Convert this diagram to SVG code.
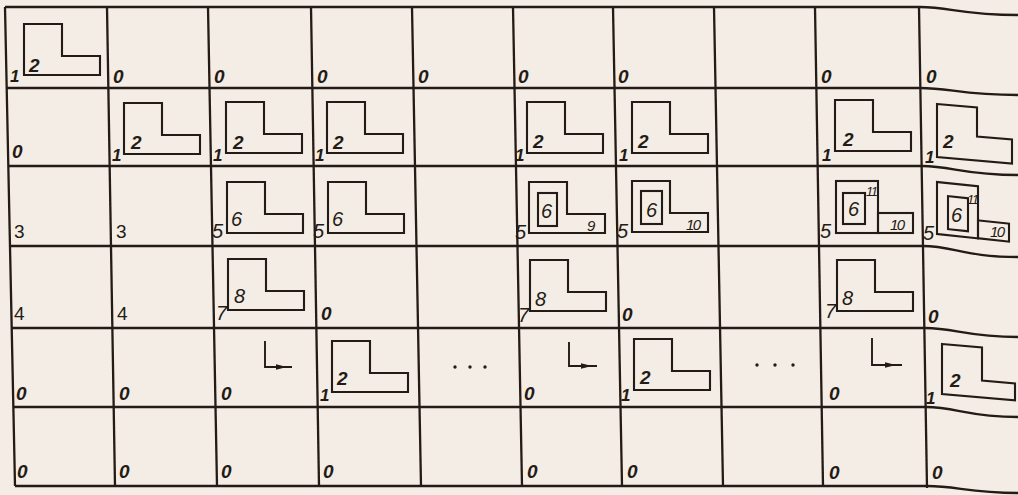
<svg xmlns="http://www.w3.org/2000/svg" xmlns:xlink="http://www.w3.org/1999/xlink" width="1018" height="495" viewBox="0 0 1018 495">
<style>
.g{fill:none;stroke:#241b16;stroke-width:2.3}
.s{fill:none;stroke:#241b16;stroke-width:2.1}
.a{fill:none;stroke:#241b16;stroke-width:1.9}
.h{fill:#241b16}
text{fill:#241b16;font-family:"Liberation Sans",Arial,sans-serif;font-style:italic}
.z{font-size:19px;font-weight:bold}
.o{font-size:17px;font-weight:bold}
.d{font-size:20px}
.u{font-size:19px;font-style:normal}
.m{font-size:15px}
.t{font-size:15px;letter-spacing:-1.5px}
.x{font-size:13px;letter-spacing:-1.5px}
</style>
<defs>
<path id="L" d="M0,0H38V32H76V51H0Z"/>
</defs>
<rect x="0" y="0" width="1018" height="495" fill="#f4ede5"/>
<g id="grid" class="g">
<path d="M5,7L920,7C950,7 962,15 1018,15"/>
<path d="M6,88L920,88C950,88 962,95 1018,95"/>
<path d="M8,166L922,166C952,166 964,175 1018,175"/>
<path d="M10,246L923,246C953,246 965,257 1018,257"/>
<path d="M11,328L925,328C955,328 967,337 1018,337"/>
<path d="M13,407L926,407C956,407 968,417 1018,417"/>
<path d="M15,486L927,486C957,486 969,493 1018,493"/>
<path d="M5,7L15,486"/>
<path d="M107,7L115,486"/>
<path d="M208,7L217,486"/>
<path d="M311,7L319,486"/>
<path d="M412,7L421,486"/>
<path d="M513,7L522,486"/>
<path d="M613,7L622,486"/>
<path d="M714,7L723,486"/>
<path d="M815,7L823,486"/>
<path d="M919,7L927,488"/>
</g>
<g id="row0">
<g id="r0c0"><use href="#L" x="24" y="24" class="s"/><text class="o" x="10" y="82">1</text><text class="z" x="29" y="72">2</text></g>
<g id="r0c1"><text class="z" x="113" y="83">0</text></g>
<g id="r0c2"><text class="z" x="214" y="83">0</text></g>
<g id="r0c3"><text class="z" x="317" y="83">0</text></g>
<g id="r0c4"><text class="z" x="418" y="83">0</text></g>
<g id="r0c5"><text class="z" x="518" y="83">0</text></g>
<g id="r0c6"><text class="z" x="618" y="83">0</text></g>
<g id="r0c8"><text class="z" x="821" y="83">0</text></g>
<g id="r0c9"><text class="z" x="926" y="83">0</text></g>
</g>
<g id="row1">
<g id="r1c0"><text class="z" x="12" y="158">0</text></g>
<g id="r1c1"><use href="#L" x="124" y="103" class="s"/><text class="o" x="112" y="161">1</text><text class="z" x="131" y="149">2</text></g>
<g id="r1c2"><use href="#L" x="226" y="102" class="s"/><text class="o" x="213" y="161">1</text><text class="z" x="233" y="149">2</text></g>
<g id="r1c3"><use href="#L" x="327" y="102" class="s"/><text class="o" x="315" y="161">1</text><text class="z" x="333" y="149">2</text></g>
<g id="r1c5"><use href="#L" x="527" y="102" class="s"/><text class="o" x="515" y="161">1</text><text class="z" x="533" y="148">2</text></g>
<g id="r1c6"><use href="#L" x="632" y="102" class="s"/><text class="o" x="619" y="161">1</text><text class="z" x="638" y="148">2</text></g>
<g id="r1c8"><use href="#L" x="835" y="100" class="s"/><text class="o" x="822" y="161">1</text><text class="z" x="843" y="146">2</text></g>
<g id="r1c9"><g transform="translate(937,104) skewY(5)"><path class="s" d="M0,0H40V29H75V53H0Z"/></g><text class="o" x="925" y="163">1</text><text class="z" x="943" y="148">2</text></g>
</g>
<g id="row2">
<g id="r2c0"><text class="u" x="14" y="238">3</text></g>
<g id="r2c1"><text class="u" x="116" y="238">3</text></g>
<g id="r2c2"><use href="#L" x="227" y="182" class="s"/><text class="d" x="212" y="238">5</text><text class="d" x="231" y="226">6</text></g>
<g id="r2c3"><use href="#L" x="328" y="182" class="s"/><text class="d" x="313" y="238">5</text><text class="d" x="332" y="226">6</text></g>
<g id="r2c5"><use href="#L" x="529" y="182" class="s"/><rect class="s" x="538" y="193" width="19" height="33"/><text class="d" x="541" y="218">6</text><text class="m" x="587" y="231">9</text><text class="d" x="515" y="239">5</text></g>
<g id="r2c6"><use href="#L" x="632" y="181" class="s"/><rect class="s" x="641" y="191" width="21" height="33"/><text class="d" x="646" y="217">6</text><text class="t" x="686" y="230">10</text><text class="d" x="617" y="238">5</text></g>
<g id="r2c8"><rect class="s" x="836" y="181" width="42" height="52"/><rect class="s" x="878" y="213" width="35" height="20"/><rect class="s" x="843" y="193" width="22" height="31"/><text class="d" x="848" y="216">6</text><text class="x" x="866" y="196">11</text><text class="t" x="890" y="230">10</text><text class="d" x="820" y="238">5</text></g>
<g id="r2c9"><g transform="translate(937,182) skewY(6)"><rect class="s" x="0" y="0" width="41" height="52"/><rect class="s" x="41" y="34" width="31" height="18"/><rect class="s" x="11" y="13" width="20" height="33"/></g><text class="d" x="951" y="222">6</text><text class="x" x="967" y="204">11</text><text class="t" x="990" y="237">10</text><text class="d" x="923" y="240">5</text></g>
</g>
<g id="row3">
<g id="r3c0"><text class="u" x="14" y="320">4</text></g>
<g id="r3c1"><text class="u" x="117" y="320">4</text></g>
<g id="r3c2"><use href="#L" x="228" y="259" class="s"/><text class="d" x="216" y="320">7</text><text class="d" x="234" y="303">8</text></g>
<g id="r3c3"><text class="z" x="321" y="320">0</text></g>
<g id="r3c5"><use href="#L" x="530" y="260" class="s"/><text class="d" x="518" y="322">7</text><text class="d" x="535" y="306">8</text></g>
<g id="r3c6"><text class="z" x="622" y="321">0</text></g>
<g id="r3c8"><use href="#L" x="837" y="260" class="s"/><text class="d" x="825" y="318">7</text><text class="d" x="842" y="305">8</text></g>
<g id="r3c9"><text class="z" x="928" y="323">0</text></g>
</g>
<g id="row4">
<g id="r4c0"><text class="z" x="16" y="400">0</text></g>
<g id="r4c1"><text class="z" x="119" y="400">0</text></g>
<g id="r4c2"><text class="z" x="221" y="400">0</text><path class="a" d="M265,341V367H292"/><path class="h" d="M276,364.3L287,367L276,369.7Z"/></g>
<g id="r4c3"><use href="#L" x="332" y="341" class="s"/><text class="o" x="320" y="401">1</text><text class="z" x="337" y="385">2</text></g>
<g id="r4c4"><circle class="h" cx="455" cy="367" r="1.7"/><circle class="h" cx="470" cy="367" r="1.7"/><circle class="h" cx="485" cy="367" r="1.7"/></g>
<g id="r4c5"><text class="z" x="524" y="400">0</text><path class="a" d="M569,342V366H597"/><path class="h" d="M581,363.3L592,366L581,368.7Z"/></g>
<g id="r4c6"><use href="#L" x="634" y="339" class="s"/><text class="o" x="621" y="401">1</text><text class="z" x="640" y="384">2</text></g>
<g id="r4c7"><circle class="h" cx="757" cy="365" r="1.7"/><circle class="h" cx="775" cy="365" r="1.7"/><circle class="h" cx="793" cy="365" r="1.7"/></g>
<g id="r4c8"><text class="z" x="829" y="400">0</text><path class="a" d="M872,338V365H902"/><path class="h" d="M885,362.3L896,365L885,367.7Z"/></g>
<g id="r4c9"><g transform="translate(942,344) skewY(5)"><path class="s" d="M0,0H40V33H73V50H0Z"/></g><text class="z" x="950" y="387">2</text><text class="o" x="926" y="404">1</text></g>
</g>
<g id="row5">
<g id="r5c0"><text class="z" x="17" y="478">0</text></g>
<g id="r5c1"><text class="z" x="119" y="478">0</text></g>
<g id="r5c2"><text class="z" x="221" y="478">0</text></g>
<g id="r5c3"><text class="z" x="323" y="478">0</text></g>
<g id="r5c5"><text class="z" x="527" y="478">0</text></g>
<g id="r5c6"><text class="z" x="627" y="478">0</text></g>
<g id="r5c8"><text class="z" x="829" y="479">0</text></g>
<g id="r5c9"><text class="z" x="932" y="479">0</text></g>
</g>
</svg>
